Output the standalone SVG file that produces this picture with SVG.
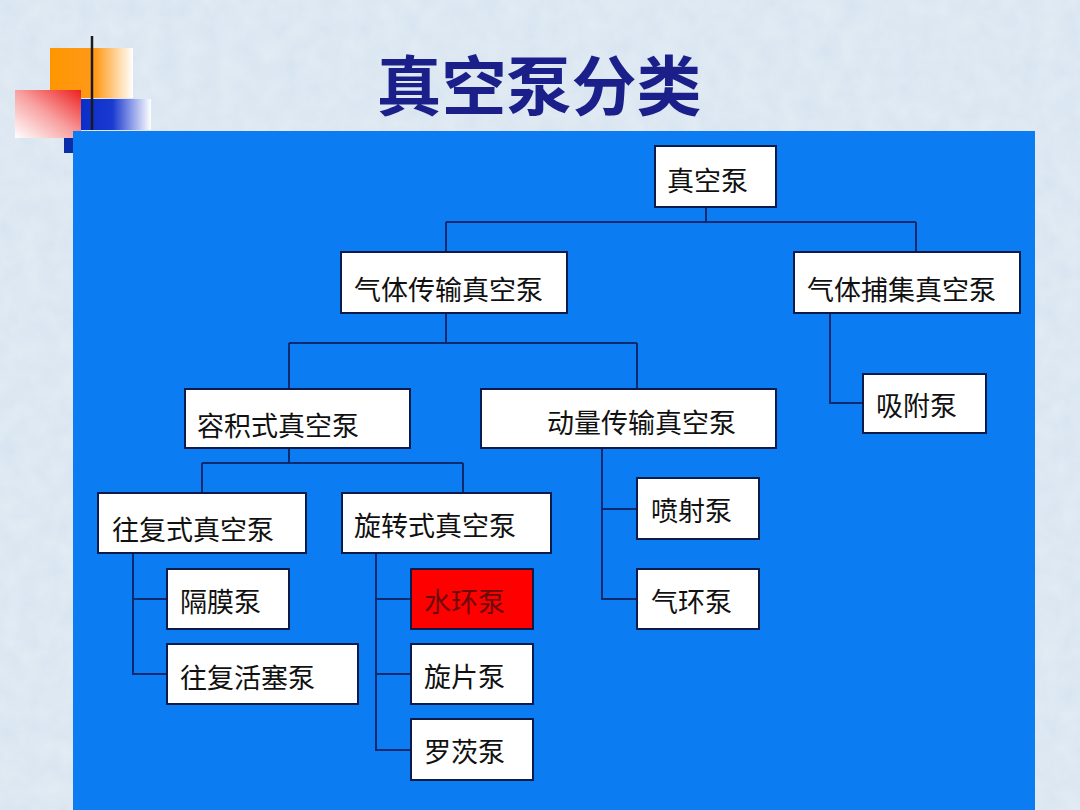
<svg xmlns="http://www.w3.org/2000/svg" width="1080" height="810" viewBox="0 0 1080 810">
<defs>
<linearGradient id="gOrange" x1="0" y1="0" x2="1" y2="0">
<stop offset="0" stop-color="#ff9500"/><stop offset="0.55" stop-color="#ff9a1a"/><stop offset="1" stop-color="#ffffff"/>
</linearGradient>
<linearGradient id="gRed" x1="0" y1="1" x2="1" y2="0">
<stop offset="0" stop-color="#ffffff"/><stop offset="0.5" stop-color="#f8a0a0"/><stop offset="1" stop-color="#ee2020"/>
</linearGradient>
<linearGradient id="gBlue" x1="0" y1="0" x2="1" y2="0">
<stop offset="0" stop-color="#0a2ec8"/><stop offset="0.45" stop-color="#1a3ad0"/><stop offset="1" stop-color="#ffffff"/>
</linearGradient>
<linearGradient id="gLine" x1="0" y1="0" x2="1" y2="0">
<stop offset="0" stop-color="#222222"/><stop offset="0.4" stop-color="#3a4a66"/><stop offset="1" stop-color="#8fb8e0"/>
</linearGradient>
<filter id="tex" x="0" y="0" width="100%" height="100%">
<feTurbulence type="fractalNoise" baseFrequency="0.05" numOctaves="3" seed="4"/>
<feColorMatrix type="matrix" values="0 0 0 0 1  0 0 0 0 1  0 0 0 0 1  0 0 0 0.35 0"/>
</filter>
<style>
.node rect{fill:#ffffff;stroke:#0c1c4a;stroke-width:2}
.node text{font-family:"Noto Sans CJK SC","Noto Sans",sans-serif;font-size:27px;fill:#111111}
.conn path{fill:none;stroke:#0d2a6e;stroke-width:2}
</style>
</defs>
<rect x="0" y="0" width="1080" height="810" fill="#d6e3ef"/>
<rect x="0" y="0" width="1080" height="810" filter="url(#tex)"/>
<rect x="64" y="138" width="12" height="15" fill="#0a2ea8"/>
<rect x="50" y="48" width="83" height="50" fill="url(#gOrange)"/>
<rect x="15" y="90" width="66" height="48" fill="url(#gRed)"/>
<rect x="81" y="99" width="70" height="31" fill="url(#gBlue)"/>
<line x1="92" y1="36" x2="92" y2="130" stroke="#1a1a1a" stroke-width="2.5"/>
<line x1="53" y1="130" x2="1035" y2="130" stroke="url(#gLine)" stroke-width="2"/>
<text x="539" y="110" text-anchor="middle" font-family="Noto Sans CJK SC, sans-serif" font-weight="bold" font-size="65" fill="#1b1f8a">真空泵分类</text>
<rect x="73" y="131" width="962" height="679" fill="#0b7cf2"/>
<g class="conn" id="connectors">
<path d="M706 207V222M446 222H916M446 222V252M916 222V252"/>
<path d="M446 313V343M289 343H637M289 343V389M637 343V389"/>
<path d="M830 313V403H863"/>
<path d="M289 448V463M202 463H463M202 463V493M463 463V493"/>
<path d="M133 553V674H167M133 599H167"/>
<path d="M376 553V750H411M376 599H411M376 674H411"/>
<path d="M602 448V599H637M602 509H637"/>
</g>
<g class="node" id="n-root"><rect x="655" y="146" width="121" height="61"/><text x="667" y="191">真空泵</text></g>
<g class="node" id="n-transfer"><rect x="341" y="252" width="226" height="61"/><text x="354" y="300">气体传输真空泵</text></g>
<g class="node" id="n-capture"><rect x="794" y="252" width="226" height="61"/><text x="807" y="300">气体捕集真空泵</text></g>
<g class="node" id="n-adsorb"><rect x="863" y="374" width="123" height="59"/><text x="876" y="416">吸附泵</text></g>
<g class="node" id="n-positive"><rect x="185" y="389" width="225" height="59"/><text x="197" y="436">容积式真空泵</text></g>
<g class="node" id="n-momentum"><rect x="481" y="389" width="295" height="59"/><text x="547" y="433">动量传输真空泵</text></g>
<g class="node" id="n-recip"><rect x="98" y="493" width="208" height="60"/><text x="112" y="540">往复式真空泵</text></g>
<g class="node" id="n-rotary"><rect x="342" y="493" width="209" height="60"/><text x="354" y="536">旋转式真空泵</text></g>
<g class="node" id="n-diaphragm"><rect x="167" y="569" width="122" height="60"/><text x="180" y="612">隔膜泵</text></g>
<g class="node" id="n-piston"><rect x="167" y="644" width="191" height="60"/><text x="180" y="688">往复活塞泵</text></g>
<g class="node" id="n-liquidring"><rect x="411" y="569" width="122" height="60" style="fill:#ff0000"/><text x="424" y="612" style="fill:#6a0a0a">水环泵</text></g>
<g class="node" id="n-vane"><rect x="411" y="644" width="122" height="60"/><text x="424" y="687">旋片泵</text></g>
<g class="node" id="n-roots"><rect x="411" y="719" width="122" height="61"/><text x="424" y="762">罗茨泵</text></g>
<g class="node" id="n-ejector"><rect x="637" y="478" width="122" height="61"/><text x="651" y="521">喷射泵</text></g>
<g class="node" id="n-gasring"><rect x="637" y="569" width="122" height="60"/><text x="651" y="612">气环泵</text></g>
</svg>
